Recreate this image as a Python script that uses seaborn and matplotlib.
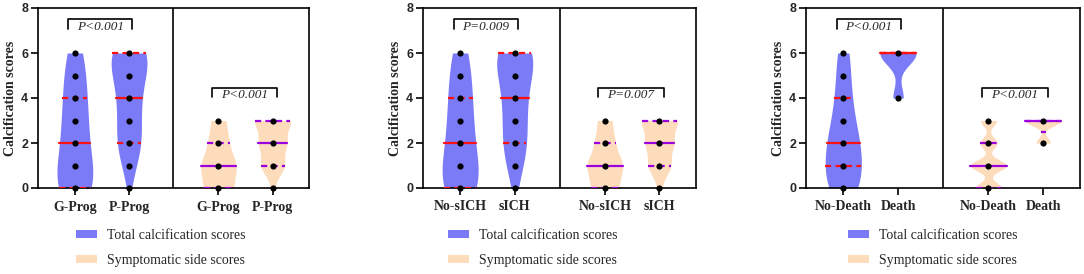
import matplotlib
matplotlib.use("Agg")
import matplotlib.pyplot as plt
from matplotlib.patches import Patch
import numpy as np
import pandas as pd
import seaborn as sns

# score levels on the y axis
total_levels = [0, 1, 2, 3, 4, 5, 6]
side_levels = [0, 1, 2, 3]

# patients per score level (estimated from violin widths and quartile lines)
prog_groups = ["G-Prog", "P-Prog"]
prog_total = [[28, 14, 14, 12, 12, 10, 10], [1, 8, 17, 12, 14, 16, 32]]
prog_side = [[30, 35, 20, 15], [4, 26, 30, 40]]
prog_p = ["P<0.001", "P<0.001"]

sich_groups = ["No-sICH", "sICH"]
sich_total = [[26, 16, 14, 12, 12, 10, 10], [2, 10, 15, 12, 14, 15, 32]]
sich_side = [[28, 37, 20, 15], [5, 25, 30, 40]]
sich_p = ["P=0.009", "P=0.007"]

death_groups = ["No-Death", "Death"]
death_total = [[22, 20, 20, 12, 10, 7, 9], [0, 0, 0, 0, 4, 0, 14]]
death_side = [[27, 38, 18, 17], [0, 0, 2, 5]]
death_p = ["P<0.001", "P<0.001"]

panels = [
    (prog_groups, prog_total, prog_side, prog_p),
    (sich_groups, sich_total, sich_side, sich_p),
    (death_groups, death_total, death_side, death_p),
]

# layout (pixels in a 1084x274 figure)
W, H = 1084, 274
ax_rects = [(38, 271), (423, 273), (806, 274)]
legend_x = [76, 448, 848]
positions = [0, 1, 2.65, 3.65]
divider = 1.82
bw_total = [[1.3, 1.3], [1.3, 1.3], [1.2, 1.1]]
bw_side = [[1.2, 1.2], [1.2, 1.2], [0.6, 0.7]]

blue = "#7B7BF8"
peach = "#FDDCBC"
red = "#FF1010"
purple = "#9B00E0"

sns.set_style("ticks")
plt.rcParams["font.family"] = ["Liberation Serif", "DejaVu Serif"]
plt.rcParams["axes.linewidth"] = 1.2


def draw_violin(ax, pos, levels, counts, fill, line_color, bw):
    vals = np.repeat(levels, counts)
    df = pd.DataFrame({"x": np.full(len(vals), pos, dtype=float), "score": vals})
    n_before = len(ax.lines)
    sns.violinplot(data=df, x="x", y="score", native_scale=True, orient="x", ax=ax,
                   color=fill, saturation=1, cut=0, width=0.66, linewidth=0,
                   inner="quart", bw_adjust=bw,
                   inner_kws=dict(color=line_color, linewidth=1.6))
    new_lines = ax.lines[n_before:]
    if len(new_lines) == 3:
        q1, med, q3 = new_lines
        med.set_linestyle("-")
        for ln in (q1, q3):
            ln.set_dashes([2.8, 1.9])
        for ln in new_lines:
            ln.set_zorder(4)
    pts = np.unique(vals)
    sns.scatterplot(x=np.full(len(pts), pos, dtype=float), y=pts, ax=ax, color="black",
                    s=20, linewidth=0, zorder=6, clip_on=False)


def bracket(ax, a, b, top, text):
    ax.plot([a, a, b, b], [top - 0.42, top, top, top - 0.42], color="black", lw=1.2)
    ax.text((a + b) / 2, top - 0.06, text, ha="center", va="top", style="italic",
            fontsize=9.5)


fig = plt.figure(figsize=(W / 100, H / 100), dpi=100)

for i, (groups, total, side, pvals) in enumerate(panels):
    left, width = ax_rects[i]
    ax = fig.add_axes([left / W, (H - 188) / H, width / W, 180 / H])

    for j in range(2):
        draw_violin(ax, positions[j], total_levels, total[j], blue, red, bw_total[i][j])
    for j in range(2):
        draw_violin(ax, positions[2 + j], side_levels, side[j], peach, purple, bw_side[i][j])

    ax.axvline(divider, color="black", lw=1.2)
    bracket(ax, positions[0] - 0.12, positions[1] + 0.06, 7.5, pvals[0])
    bracket(ax, positions[2] - 0.12, positions[3] + 0.08, 4.45, pvals[1])

    ax.set_xlim(-0.68, 4.32)
    ax.set_ylim(0, 8)
    ax.set_xticks(positions)
    ax.set_xticklabels(groups + groups, fontweight="bold", fontsize=10)
    ax.set_yticks([0, 2, 4, 6, 8])
    ax.set_yticklabels(["0", "2", "4", "6", "8"], fontweight="bold", fontsize=9,
                       family=["Liberation Sans", "DejaVu Sans"])
    ax.set_xlabel("")
    ax.set_ylabel("Calcification scores", fontweight="bold", fontsize=10, labelpad=3)
    ax.tick_params(axis="y", length=5, width=1.2, color="black", pad=2)
    ax.tick_params(axis="x", length=5, width=1.2, color="black", pad=4)
    for sp in ax.spines.values():
        sp.set_visible(True)
        sp.set_color("black")
        sp.set_linewidth(1.2)

    handles = [Patch(facecolor=blue, edgecolor="none", label="Total calcification scores"),
               Patch(facecolor=peach, edgecolor="none", label="Symptomatic side scores")]
    ax.legend(handles=handles, loc="upper left",
              bbox_to_anchor=(legend_x[i] / W, 1 - 229 / H), bbox_transform=fig.transFigure,
              frameon=False, borderpad=0, borderaxespad=0, handlelength=1.5,
              handleheight=0.55, handletextpad=0.75, labelspacing=0.85,
              prop={"size": 10})

fig.savefig("out.png", dpi=100)
